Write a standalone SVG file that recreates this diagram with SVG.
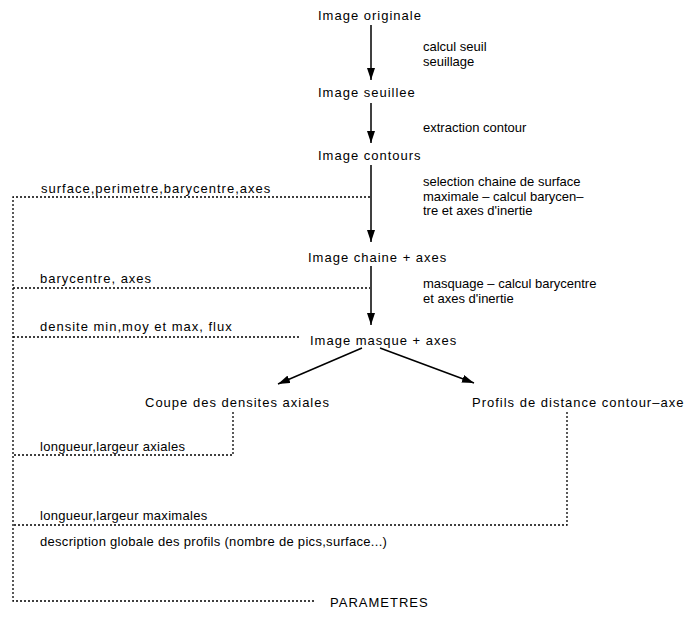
<svg xmlns="http://www.w3.org/2000/svg" width="699" height="619" viewBox="0 0 699 619">
<defs>
<marker id="ah" viewBox="0 0 12 8" refX="12" refY="4" markerWidth="12" markerHeight="8" markerUnits="userSpaceOnUse" orient="auto">
<path d="M0,0 L12,4 L0,8 Z" fill="#000"/>
</marker>
<style>
text{font-family:"Liberation Sans",Arial,sans-serif;font-size:13px;fill:#000}
.nd{letter-spacing:1px}
.lw{letter-spacing:1px}
.ln{letter-spacing:0.3px}
.ar{stroke:#000;stroke-width:1.5;fill:none;marker-end:url(#ah)}
.dl{stroke:#000;stroke-width:1.3;fill:none;stroke-dasharray:2 2}
</style>
</defs>
<rect width="699" height="619" fill="#fff"/>
<g id="connectors">
<line class="ar" x1="371" y1="25" x2="371" y2="80"/>
<line class="ar" x1="371" y1="103" x2="371" y2="143"/>
<line class="ar" x1="371" y1="165" x2="371" y2="242"/>
<line class="ar" x1="371" y1="266" x2="371" y2="325"/>
<line class="ar" x1="362" y1="348" x2="278" y2="384"/>
<line class="ar" x1="380" y1="348" x2="474" y2="383"/>
<polyline class="dl" points="370,197 13,197 13,601 314,601"/>
<line class="dl" x1="13" y1="288" x2="370" y2="288"/>
<line class="dl" x1="13" y1="337" x2="300" y2="337"/>
<polyline class="dl" points="233,412 233,455 13,455"/>
<polyline class="dl" points="567,412 567,525 13,525"/>
</g>
<g id="n-originale"><text class="nd" x="318" y="20">Image originale</text></g>
<g id="n-seuillee"><text class="nd" x="318" y="97">Image seuillee</text></g>
<g id="n-contours"><text class="nd" x="318" y="160">Image contours</text></g>
<g id="n-chaine"><text class="nd" x="308" y="262">Image chaine + axes</text></g>
<g id="n-masque"><text class="nd" x="310" y="345">Image masque + axes</text></g>
<g id="n-coupe"><text class="nd" x="145" y="407">Coupe des densites axiales</text></g>
<g id="n-profils"><text class="nd" x="472" y="407">Profils de distance contour–axe</text></g>
<g id="n-parametres"><text class="nd" x="330" y="607">PARAMETRES</text></g>
<g id="labels">
<text x="423" y="51">calcul seuil</text>
<text x="423" y="65.5">seuillage</text>
<text x="423" y="132">extraction contour</text>
<text x="423" y="186">selection chaine de surface</text>
<text x="423" y="200.5">maximale – calcul barycen–</text>
<text x="423" y="215">tre et axes d'inertie</text>
<text x="423" y="288">masquage – calcul barycentre</text>
<text x="423" y="302.5">et axes d'inertie</text>
<text class="lw" x="41" y="193">surface,perimetre,barycentre,axes</text>
<text class="lw" x="40" y="283">barycentre, axes</text>
<text class="lw" x="40" y="331">densite min,moy et max, flux</text>
<text class="ln" x="40" y="451">longueur,largeur axiales</text>
<text class="ln" x="40" y="520">longueur,largeur maximales</text>
<text class="ln" x="40" y="546">description globale des profils (nombre de pics,surface...)</text>
</g>
</svg>
